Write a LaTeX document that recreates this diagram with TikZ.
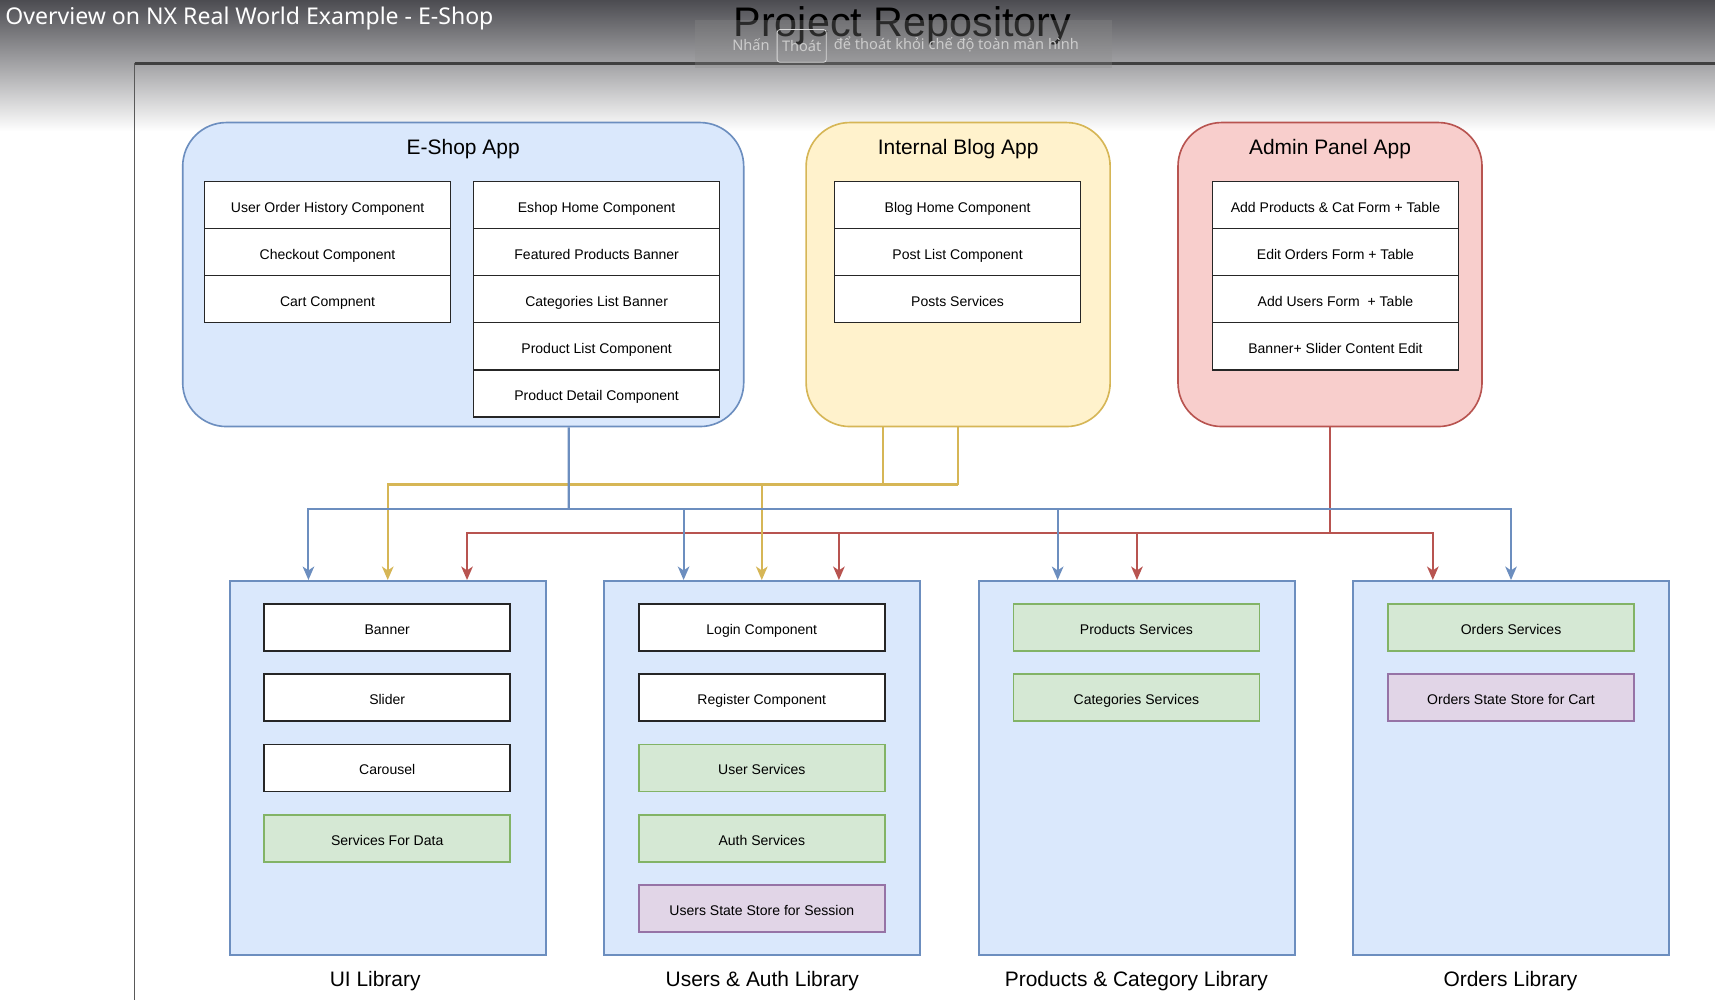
\documentclass[tikz,border=0pt]{standalone}
\usepackage{fontspec}
\setmainfont{Liberation Sans}
\newfontfamily\uifont{Noto Sans}
\usetikzlibrary{calc,arrows.meta}
\definecolor{libfill}{HTML}{DAE8FC}
\definecolor{libline}{HTML}{6C8EBF}
\definecolor{blogfill}{HTML}{FFF2CC}
\definecolor{blogline}{HTML}{D6B656}
\definecolor{adminfill}{HTML}{F8CECC}
\definecolor{adminline}{HTML}{B85450}
\definecolor{svcfill}{HTML}{D5E8D4}
\definecolor{svcline}{HTML}{82B366}
\definecolor{storefill}{HTML}{E1D5E7}
\definecolor{storeline}{HTML}{9673A6}
\definecolor{topgray}{HTML}{4C4C51}
\definecolor{midgray}{HTML}{B8B8BA}
\def\boxfont{\fontsize{7.3}{8.8}\selectfont}
\def\titlefont{\fontsize{10.9}{13}\selectfont}

\begin{document}
\begin{tikzpicture}[x=0.02cm, y=-0.02cm,
  comp/.style={draw=black!85, fill=white, line width=0.85pt, minimum width=4.5cm, minimum height=0.86cm, inner sep=0pt, text height=0.72em, text depth=0pt, font=\boxfont},
  svc/.style={comp, draw=svcline, fill=svcfill},
  store/.style={comp, draw=storeline, fill=storefill},
  app/.style={rounded corners=0.8cm, line width=0.85pt, minimum height=5.56cm, inner sep=0pt},
  lib/.style={draw=libline, fill=libfill, line width=0.85pt, minimum width=5.78cm, minimum height=6.84cm, inner sep=0pt},
  apptitle/.style={font=\titlefont, anchor=base, inner sep=0pt},
  wire/.style={line width=1.1pt},
  arrowed/.style={wire, -{Stealth[length=7pt,width=6pt,inset=2pt]}}]
  \useasboundingbox (0,0) rectangle (1568,914);
  %%%%% SCREEN %%%%%
  \fill[white] (0,0) rectangle (1568,914);
  \shade[top color=topgray, middle color=midgray, bottom color=white] (0,0) rectangle (1568,120);
  \draw[line width=1.1pt, black!75] (123,58) -- (1568,58);
  \draw[line width=0.9pt, black!65] (123,58) -- (123,914);
  \node[font=\uifont\fontsize{12}{14}\selectfont, text=white, anchor=base west, inner sep=0pt] (overview) at (4.6,22) {Overview on NX Real World Example - E-Shop};
  \node[font=\fontsize{21.5}{24}\selectfont, anchor=base, inner sep=0pt] (repo) at (825,33.5) {Project Repository};
  \fill[black!45, opacity=0.3] (635,18) rectangle (1017,62);
  \node[font=\uifont\fontsize{7.6}{9}\selectfont, text=black!20, anchor=east, inner sep=0pt] (nhan) at (704,41) {Nhấn};
  \node[font=\uifont\fontsize{7.6}{9}\selectfont, text=black!20, draw=black!15, rounded corners=1.5pt, minimum width=0.9cm, minimum height=0.6cm, inner sep=0pt] (thoat) at (733,42) {Thoát};
  \node[font=\uifont\fontsize{7.6}{9}\selectfont, text=black!20, anchor=west, inner sep=0pt] (exitmsg) at (762,41) {để thoát khỏi chế độ toàn màn hình};

  %%%%% APPS %%%%%
  \node[app, draw=libline, fill=libfill, minimum width=10.26cm] (eshop) at (423.5,251) {};
  \node[app, draw=blogline, fill=blogfill, minimum width=5.56cm] (blog) at (876,251) {};
  \node[app, draw=adminline, fill=adminfill, minimum width=5.56cm] (admin) at (1216,251) {};
  \node[apptitle] (eshoptitle) at (423.5,141) {E-Shop App};
  \node[apptitle] (blogtitle) at (876,141) {Internal Blog App};
  \node[apptitle] (admintitle) at (1216,141) {Admin Panel App};

  \node[comp] (history) at (299.5,187.5) {User Order History Component};
  \node[comp] (checkout) at (299.5,230.5) {Checkout Component};
  \node[comp] (cart) at (299.5,273.5) {Cart Compnent};
  \node[comp] (eshophome) at (545.5,187.5) {Eshop Home Component};
  \node[comp] (featured) at (545.5,230.5) {Featured Products Banner};
  \node[comp] (catlist) at (545.5,273.5) {Categories List Banner};
  \node[comp] (prodlist) at (545.5,316.5) {Product List Component};
  \node[comp] (proddetail) at (545.5,359.5) {Product Detail Component};

  \node[comp] (bloghome) at (875.5,187.5) {Blog Home Component};
  \node[comp] (postlist) at (875.5,230.5) {Post List Component};
  \node[comp] (postsvc) at (875.5,273.5) {Posts Services};

  \node[comp] (addprod) at (1221,187.5) {Add Products \& Cat Form + Table};
  \node[comp] (editorders) at (1221,230.5) {Edit Orders Form + Table};
  \node[comp] (addusers) at (1221,273.5) {Add Users Form \ + Table};
  \node[comp] (slideredit) at (1221,316.5) {Banner+ Slider Content Edit};

  %%%%% LIBRARIES %%%%%
  \node[lib] (uilib) at (354.5,702) {};
  \node[lib] (authlib) at (696.5,702) {};
  \node[lib] (prodlib) at (1039.5,702) {};
  \node[lib] (orderlib) at (1381.5,702) {};
  \node[apptitle] (uititle) at (343,902) {UI Library};
  \node[apptitle] (authtitle) at (697,902) {Users \& Auth Library};
  \node[apptitle] (prodtitle) at (1039,902) {Products \& Category Library};
  \node[apptitle] (ordertitle) at (1381,902) {Orders Library};

  \node[comp] (banner) at (354,573.5) {Banner};
  \node[comp] (slider) at (354,637.5) {Slider};
  \node[comp] (carousel) at (354,702) {Carousel};
  \node[svc] (datasvc) at (354,766.5) {Services For Data};

  \node[comp] (login) at (696.5,573.5) {Login Component};
  \node[comp] (register) at (696.5,637.5) {Register Component};
  \node[svc] (usersvc) at (696.5,702) {User Services};
  \node[svc] (authsvc) at (696.5,766.5) {Auth Services};
  \node[store] (userstore) at (696.5,830.5) {Users State Store for Session};

  \node[svc] (prodsvc) at (1039,573.5) {Products Services};
  \node[svc] (catsvc) at (1039,637.5) {Categories Services};

  \node[svc] (ordersvc) at (1381.5,573.5) {Orders Services};
  \node[store] (orderstore) at (1381.5,637.5) {Orders State Store for Cart};

  %%%%% WIRES %%%%%
  \coordinate (bluebus) at (520,465);
  \coordinate (yellowbus) at (876,443);
  \coordinate (redbus) at (1216,487);

  \draw[wire, adminline] (admin.south) -- (redbus);
  \draw[arrowed, adminline] (redbus) -| ($(uilib.north)+(72.5,0)$);
  \draw[arrowed, adminline] (redbus) -| ($(authlib.north)+(70.5,0)$);
  \draw[arrowed, adminline] (redbus) -| (prodlib.north);
  \draw[arrowed, adminline] (redbus) -| ($(orderlib.north)+(-71.5,0)$);

  \draw[wire, blogline] (blog.south) -- (yellowbus);
  \draw[wire, blogline] ($(blog.south)+(-69,0)$) |- (yellowbus);
  \draw[arrowed, blogline] (yellowbus) -| (uilib.north);
  \draw[arrowed, blogline] (yellowbus) -| (authlib.north);

  \draw[wire, libline] ($(eshop.south)+(96.5,0)$) -- (bluebus);
  \draw[arrowed, libline] (bluebus) -| ($(uilib.north)+(-72.5,0)$);
  \draw[arrowed, libline] (bluebus) -| ($(authlib.north)+(-71.5,0)$);
  \draw[arrowed, libline] (bluebus) -| ($(prodlib.north)+(-72.5,0)$);
  \draw[arrowed, libline] (bluebus) -| (orderlib.north);
\end{tikzpicture}
\end{document}
